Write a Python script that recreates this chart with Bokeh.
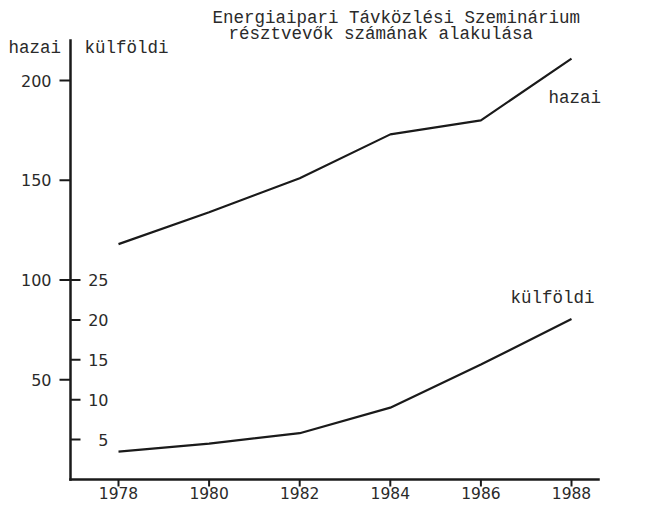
import math
from bokeh.plotting import figure
from bokeh.models import Range1d
from bokeh.core.properties import value
from bokeh.embed import file_html
from bokeh.resources import INLINE

# ---- data ----
years = [1978, 1980, 1982, 1984, 1986, 1988]
hazai = [118, 134, 151, 173, 180, 211]
kulfoldi = [3.5, 4.5, 5.8, 9.0, 14.4, 20.1]
hazai_ticks = [50, 100, 150, 200]
kulfoldi_ticks = [5, 10, 15, 20, 25]
year_labels = [str(y) for y in years]
hazai_labels = [str(t) for t in hazai_ticks]
kulfoldi_labels = [str(t) for t in kulfoldi_ticks]
title_lines = ["Energiaipari Távközlési Szeminárium", "résztvevők számának alakulása"]
series_names = ["hazai", "külföldi"]

# ---- layout (pixels) ----
W, H = 639, 506
AXIS_PX = 70          # vertical axis line
RIGHT_PX = 598        # right end of the base line
BASE_PX = 479         # base line (value 0)
TOP_PX = 40           # top of vertical axis line
FIRST_PX, LAST_PX = 118, 571   # first / last year
H_SCALE = (BASE_PX - 80) / 200.0   # px per hazai unit (200 sits at y=80)
K_SCALE = H_SCALE * 100 / 25.0     # külföldi 25 sits level with hazai 100

x_per = (LAST_PX - FIRST_PX) / (years[-1] - years[0])
x_start = years[0] - FIRST_PX / x_per
x_end = x_start + W / x_per
axis_x = x_start + AXIS_PX / x_per
right_x = x_start + RIGHT_PX / x_per
h_start = -(H - BASE_PX) / H_SCALE
h_end = h_start + H / H_SCALE
k_start = -(H - BASE_PX) / K_SCALE
k_end = k_start + H / K_SCALE
top_h = (BASE_PX - TOP_PX) / H_SCALE

TYPE_FONT = value("Liberation Mono")
NUM_FONT = value("DejaVu Sans")
INK = "#1a1a1a"
TXT = "#2a2a2a"

p = figure(width=W, height=H, output_backend="svg", toolbar_location=None,
           x_range=Range1d(x_start, x_end), y_range=Range1d(h_start, h_end),
           min_border=0, min_border_left=0, min_border_right=0,
           min_border_top=0, min_border_bottom=0)
p.extra_y_ranges = {"k": Range1d(k_start, k_end)}
p.xaxis.visible = False
p.yaxis.visible = False
p.xgrid.visible = False
p.ygrid.visible = False
p.outline_line_color = None
p.background_fill_color = "white"
p.border_fill_color = "white"

# axis lines
p.segment(x0=[axis_x], y0=[0], x1=[axis_x], y1=[top_h], line_width=2.5,
          line_color=INK, line_cap="square")
p.segment(x0=[axis_x], y0=[0], x1=[right_x], y1=[0], line_width=2.5,
          line_color=INK, line_cap="square")

# x ticks and labels
p.ray(x=years, y=[0] * len(years), length=7, length_units="screen", angle=-math.pi / 2,
      line_width=2, line_color=INK)
p.text(x=years, y=[0] * len(years), text=year_labels, y_offset=13,
       text_align="center", text_baseline="middle",
       text_font=NUM_FONT, text_font_size="15.5px", text_color=TXT)

# hazai scale (outside, left)
p.ray(x=[axis_x] * len(hazai_ticks), y=hazai_ticks, length=11, length_units="screen",
      angle=math.pi, line_width=2, line_color=INK)
p.text(x=[axis_x] * len(hazai_ticks), y=hazai_ticks, text=hazai_labels, x_offset=-19,
       text_align="right", text_baseline="middle",
       text_font=NUM_FONT, text_font_size="16px", text_color=TXT)

# külföldi scale (inside, right of the same line)
p.ray(x=[axis_x] * len(kulfoldi_ticks), y=kulfoldi_ticks, length=10, length_units="screen",
      angle=0, line_width=2, line_color=INK, y_range_name="k")
p.text(x=[axis_x] * len(kulfoldi_ticks), y=kulfoldi_ticks, text=kulfoldi_labels, x_offset=38,
       text_align="right", text_baseline="middle", y_range_name="k",
       text_font=NUM_FONT, text_font_size="16px", text_color=TXT)

# series
p.line(years, hazai, line_width=2.2, line_color=INK)
p.line(years, kulfoldi, line_width=2.2, line_color=INK, y_range_name="k")

def tw(x, y, txt, dx, dy, **kw):
    p.text(x=[x], y=[y], text=[txt], x_offset=dx, y_offset=dy, text_align="left",
           text_baseline="middle", text_font=TYPE_FONT, text_font_size="17.5px",
           text_color=TXT, **kw)

# inline series labels
tw(years[-1], hazai[-1], series_names[0], -23, 39)
tw(years[-1], kulfoldi[-1], series_names[1], -61, -21, y_range_name="k")

# axis headers
tw(axis_x, top_h, series_names[0], -62, 7)
tw(axis_x, top_h, series_names[1], 14, 7)

# title
tw(axis_x, top_h, title_lines[0], 142, -23)
tw(axis_x, top_h, title_lines[1], 158, -7)

open("out.html", "w").write(file_html(p, INLINE))
